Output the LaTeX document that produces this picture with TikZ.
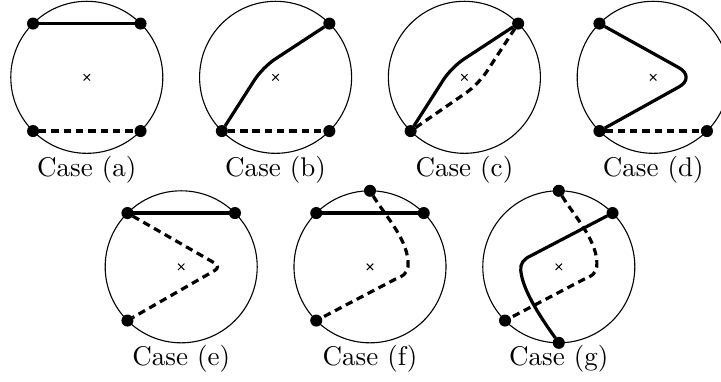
\documentclass[tikz,border=0pt]{standalone}
\begin{document}
\begin{tikzpicture}[x=0.4065pt,y=-0.4065pt,
  rimc/.style={circle,draw,line width=0.45pt,minimum size=61.8pt,inner sep=0pt,outer sep=0pt},
  dot/.style={circle,fill=black,inner sep=0pt,outer sep=0pt,minimum size=4.9pt},
  solidpath/.style={line width=1.3pt},
  dashpath/.style={line width=1.3pt,dash pattern=on 3pt off 2pt},
  crossmark/.style={line width=0.4pt},
  caselabel/.style={inner sep=0pt,font=\fontsize{10.99}{13}\selectfont}]
\clip (0,0) rectangle (721,381);
\path[use as bounding box] (0,0) rectangle (721,381);
% ---------- Case (a)
\begin{scope}[shift={(86.8,77.3)}]
  \node[rimc] (ca) at (0,0) {};
  \draw[crossmark] (-3.2,-3.2) -- (3.2,3.2) (-3.2,3.2) -- (3.2,-3.2);
  \node[dot] (a1) at (ca.135) {};
  \node[dot] (a2) at (ca.45) {};
  \node[dot] (a3) at (ca.225) {};
  \node[dot] (a4) at (ca.315) {};
  \draw[solidpath] (a1) -- (a2);
  \draw[dashpath] (a3) -- (a4);
  \node[caselabel] (la) at (0,92.5) {Case (a)};
\end{scope}
% ---------- Case (b)
\begin{scope}[shift={(275.6,77.3)}]
  \node[rimc] (cb) at (0,0) {};
  \draw[crossmark] (-3.2,-3.2) -- (3.2,3.2) (-3.2,3.2) -- (3.2,-3.2);
  \node[dot] (b2) at (cb.45) {};
  \node[dot] (b3) at (cb.225) {};
  \node[dot] (b4) at (cb.315) {};
  \draw[solidpath,rounded corners=6pt] (b3) -- (-13,-10) -- (b2);
  \draw[dashpath] (b3) -- (b4);
  \node[caselabel] (lb) at (0,92.5) {Case (b)};
\end{scope}
% ---------- Case (c)
\begin{scope}[shift={(464.4,77.3)}]
  \node[rimc] (cc) at (0,0) {};
  \draw[crossmark] (-3.2,-3.2) -- (3.2,3.2) (-3.2,3.2) -- (3.2,-3.2);
  \node[dot] (c2) at (cc.45) {};
  \node[dot] (c3) at (cc.225) {};
  \draw[solidpath,rounded corners=6pt] (c3) -- (-13,-10) -- (c2);
  \draw[dashpath,rounded corners=6pt] (c3) -- (14,7) -- (c2);
  \node[caselabel] (lc) at (0,92.5) {Case (c)};
\end{scope}
% ---------- Case (d)
\begin{scope}[shift={(653.2,77.3)}]
  \node[rimc] (cd) at (0,0) {};
  \draw[crossmark] (-3.2,-3.2) -- (3.2,3.2) (-3.2,3.2) -- (3.2,-3.2);
  \node[dot] (d1) at (cd.135) {};
  \node[dot] (d3) at (cd.225) {};
  \node[dot] (d4) at (cd.315) {};
  \draw[solidpath,rounded corners=8pt] (d1) -- (43,0) -- (d3);
  \draw[dashpath] (d3) -- (d4);
  \node[caselabel] (ld) at (0,92.5) {Case (d)};
\end{scope}
% ---------- Case (e)
\begin{scope}[shift={(181.2,266.8)}]
  \node[rimc] (ce) at (0,0) {};
  \draw[crossmark] (-3.2,-3.2) -- (3.2,3.2) (-3.2,3.2) -- (3.2,-3.2);
  \node[dot] (e1) at (ce.135) {};
  \node[dot] (e2) at (ce.45) {};
  \node[dot] (e3) at (ce.225) {};
  \draw[solidpath] (e1) -- (e2);
  \draw[dashpath,rounded corners=3pt] (e1) -- (40,0) -- (e3);
  \node[caselabel] (le) at (0,92) {Case (e)};
\end{scope}
% ---------- Case (f)
\begin{scope}[shift={(370,266.8)}]
  \node[rimc] (cf) at (0,0) {};
  \draw[crossmark] (-3.2,-3.2) -- (3.2,3.2) (-3.2,3.2) -- (3.2,-3.2);
  \node[dot] (f1) at (cf.135) {};
  \node[dot] (f2) at (cf.45) {};
  \node[dot] (f3) at (cf.225) {};
  \node[dot] (f5) at (cf.90) {};
  \draw[solidpath] (f1) -- (f2);
  \draw[dashpath] (f5) .. controls (16,-50) and (40,-25) .. (38,0)
    .. controls (37,7) and (32,10) .. (26,12) -- (f3);
  \node[caselabel] (lf) at (0,92) {Case (f)};
\end{scope}
% ---------- Case (g)
\begin{scope}[shift={(558.8,266.8)}]
  \node[rimc] (cg) at (0,0) {};
  \draw[crossmark] (-3.2,-3.2) -- (3.2,3.2) (-3.2,3.2) -- (3.2,-3.2);
  \node[dot] (g2) at (cg.45) {};
  \node[dot] (g3) at (cg.225) {};
  \node[dot] (g5) at (cg.90) {};
  \node[dot] (g6) at (cg.270) {};
  \draw[dashpath] (g5) .. controls (16,-50) and (40,-25) .. (38,0)
    .. controls (37,7) and (32,10) .. (26,12) -- (g3);
  \draw[solidpath] (g2) -- (-28,-11) .. controls (-35,-8) and (-39,-3) .. (-38,4)
    .. controls (-36,25) and (-15,55) .. (g6);
  \node[caselabel] (lg) at (0,92) {Case (g)};
\end{scope}
\end{tikzpicture}
\end{document}
